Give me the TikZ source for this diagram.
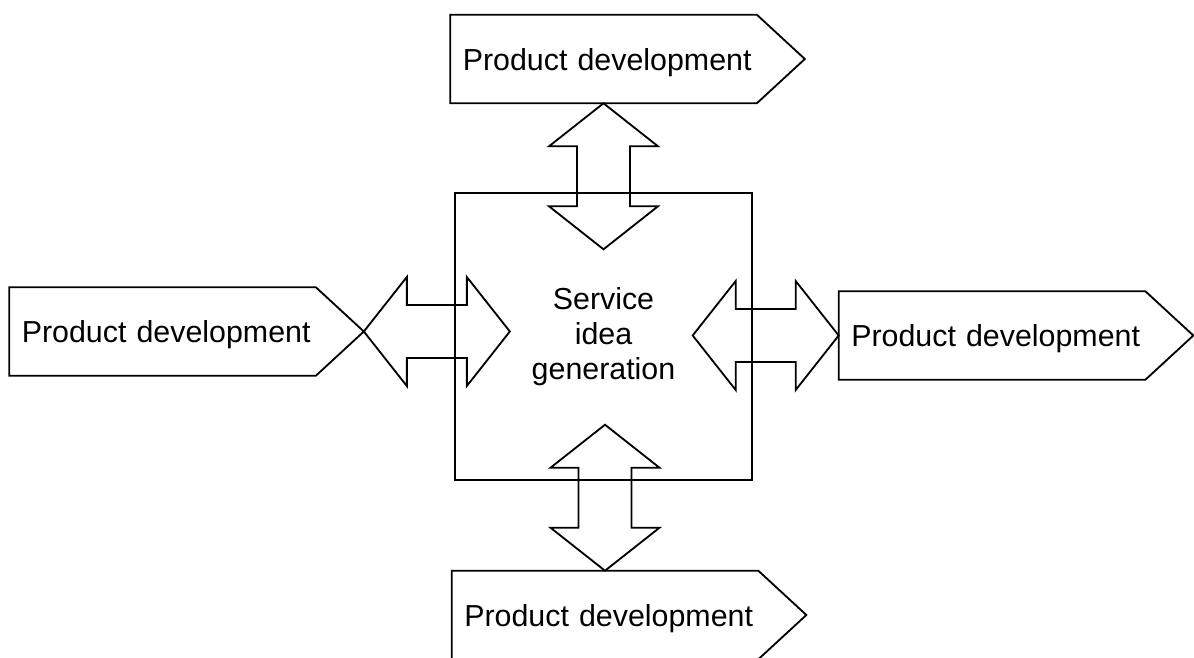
\documentclass[tikz,border=0pt]{standalone}
\usepackage{fontspec}
\setmainfont{Liberation Sans}
\usepackage{tikz}

% fat two-headed arrow, starting at #1 and pointing at angle #2
\newcommand{\fatarrow}[2]{%
  \draw[dblarrow, shift={(#1)}, rotate=#2] (0,0) -- (43,54.5) -- (43,26.5) -- (103,26.5) -- (103,54.5) -- (146,0)
    -- (103,-54.5) -- (103,-26.5) -- (43,-26.5) -- (43,-54.5) -- cycle;}
% pentagon outline round a product box
\newcommand{\pdoutline}[1]{%
  \draw[pdline] (#1.north west) -- (#1.north east) -- ([xshift=1.2cm]#1.east) coordinate (#1-tip)
    -- (#1.south east) -- (#1.south west) -- cycle;}

\begin{document}
\begin{tikzpicture}[x=0.025cm, y=-0.025cm,
    txt/.style={font=\fontsize{21.6}{25}\selectfont},
    pdbox/.style={txt, rectangle, minimum height=2.2cm, text width=7.4cm, text depth=0pt, inner xsep=0.125cm, align=right},
    pdline/.style={line width=1.3pt, line join=miter},
    ideabox/.style={txt, rectangle, draw, line width=1.3pt, minimum width=7.425cm, minimum height=7.175cm, align=center},
    dblarrow/.style={line width=1.3pt, line join=miter}]
    \useasboundingbox (0,0) rectangle (1194,657);

    % Centre
    \node[ideabox] (idea) at (603.5,336.5) {Service\\idea\\generation};

    % Product development boxes
    \node[pdbox] (pdtop) at (603.5,59) {Product development};
    \node[pdbox] (pdbot) at (605,615) {Product development};
    \node[pdbox] (pdleft) at (162.5,331.5) {Product development};
    \node[pdbox] (pdright) at (992,335.5) {Product development};
    \pdoutline{pdtop}
    \pdoutline{pdbot}
    \pdoutline{pdleft}
    \pdoutline{pdright}

    % Two-way links to the centre
    \fatarrow{pdtop.south}{-90}
    \fatarrow{pdbot.north}{90}
    \fatarrow{pdleft-tip}{0}
    \fatarrow{pdright.west}{180}
\end{tikzpicture}
\end{document}
